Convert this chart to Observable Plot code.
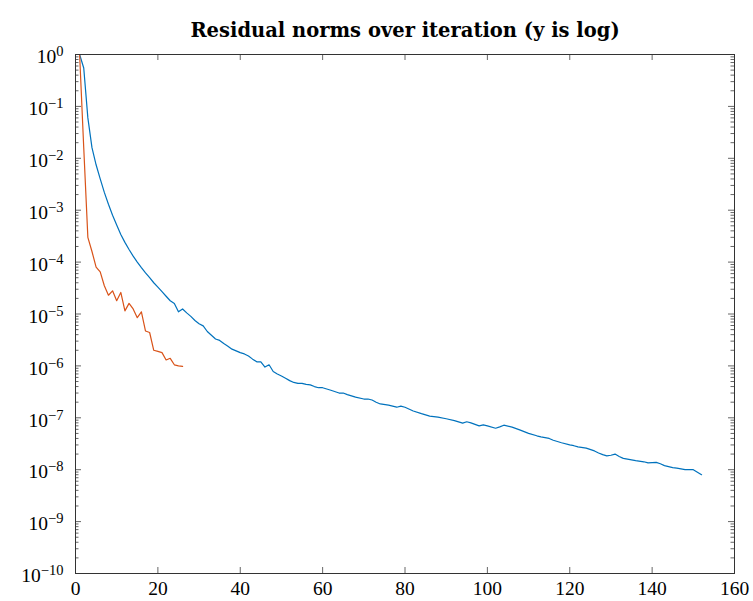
<!DOCTYPE html>
<html><head><meta charset="utf-8">
<script src="https://cdn.jsdelivr.net/npm/d3@7"></script>
<script src="https://cdn.jsdelivr.net/npm/@observablehq/plot@0.6"></script>
<style>body{margin:0;background:#fff} svg{display:block}</style>
</head><body><div id="chart"></div>
<script>
const title = "Residual norms over iteration (y is log)";
const xTicks = [0, 20, 40, 60, 80, 100, 120, 140, 160];
const yExponents = [-10, -9, -8, -7, -6, -5, -4, -3, -2, -1, 0];

const blueX = [1,2,3,4,5,6,7,8,9,10,11,12,13,14,15,16,17,18,19,20,21,22,23,24,25,26,27,28,29,30,
  31,32,33,34,35,36,37,38,39,40,41,42,43,44,45,46,47,48,49,50,51,52,53,54,55,56,57,58,59,60,
  62,64,65,66,68,70,71,72,73,74,76,78,79,80,82,84,86,88,90,92,94,95,96,98,99,100,102,103,104,106,
  108,110,112,113,115,116,118,120,121,122,124,126,127,128,129,130,131,132,133,135,136,138,139,141,
  142,143,145,146,148,150,152];
const blueY = [1,0.55,0.06,0.016,0.0075,0.004,0.0022,0.0013,8e-4,5.2e-4,3.4e-4,2.4e-4,1.75e-4,1.3e-4,1.0e-4,
  7.8e-5,6.2e-5,5.0e-5,4.0e-5,3.3e-5,2.7e-5,2.2e-5,1.8e-5,1.6e-5,1.1e-5,1.25e-5,1.05e-5,9e-6,7.5e-6,6.5e-6,
  5.9e-6,4.6e-6,3.9e-6,3.3e-6,3.1e-6,2.7e-6,2.4e-6,2.1e-6,1.95e-6,1.8e-6,1.7e-6,1.55e-6,1.35e-6,1.2e-6,1.2e-6,
  9.5e-7,1.05e-6,7.8e-7,7.0e-7,6.4e-7,5.8e-7,5.2e-7,4.8e-7,4.6e-7,4.6e-7,4.4e-7,4.3e-7,4.0e-7,3.8e-7,3.8e-7,
  3.4e-7,3.0e-7,3.0e-7,2.8e-7,2.5e-7,2.3e-7,2.3e-7,2.2e-7,2.0e-7,1.85e-7,1.75e-7,1.6e-7,1.68e-7,1.6e-7,
  1.35e-7,1.2e-7,1.08e-7,1.03e-7,9.6e-8,8.8e-8,7.9e-8,8.4e-8,8.0e-8,7.0e-8,7.3e-8,7.0e-8,6.3e-8,6.7e-8,7.2e-8,6.6e-8,
  5.8e-8,5.0e-8,4.5e-8,4.3e-8,4.0e-8,3.7e-8,3.3e-8,3.0e-8,2.9e-8,2.75e-8,2.6e-8,2.3e-8,2.1e-8,1.95e-8,1.85e-8,
  1.9e-8,2.0e-8,1.8e-8,1.65e-8,1.55e-8,1.5e-8,1.42e-8,1.35e-8,1.38e-8,
  1.3e-8,1.2e-8,1.1e-8,1.07e-8,1.0e-8,1.0e-8,8.0e-9];

const orangeX = [1,2,3,4,5,6,7,8,9,10,11,12,13,14,15,16,17,18,19,20,21,22,23,24,25,26];
const orangeY = [1,1.6e-2,3e-4,1.6e-4,8e-5,6.5e-5,3.5e-5,2.3e-5,2.8e-5,1.8e-5,2.6e-5,1.15e-5,1.6e-5,1.25e-5,
  8.5e-6,1.1e-5,4.7e-6,4.4e-6,2.0e-6,1.9e-6,1.8e-6,1.3e-6,1.4e-6,1.05e-6,1.0e-6,9.8e-7];

const W = 753, H = 601, mL = 75, mR = 19, mT = 54, mB = 28;
const pw = W - mL - mR, ph = H - mT - mB;
const yMajor = yExponents.map(e => Math.pow(10, e));
const yMinor = [];
for (const e of yExponents.slice(0, -1)) for (let k = 2; k <= 9; k++) yMinor.push(k * Math.pow(10, e));

const blue = blueX.map((x, i) => ({x, y: blueY[i]}));
const orange = orangeX.map((x, i) => ({x, y: orangeY[i]}));
const tickColor = "#666";
const serif = "'Liberation Serif', 'Times New Roman', serif";

const chart = Plot.plot({
  width: W, height: H,
  marginLeft: mL, marginRight: mR, marginTop: mT, marginBottom: mB,
  style: {fontFamily: serif, fontSize: "16px", background: "#fff", overflow: "visible", color: "#000"},
  x: {domain: [0, 160]},
  y: {type: "log", domain: [1e-10, 1]},
  marks: [
    Plot.tickX(xTicks, {x: d => d, insetTop: ph - 6, stroke: tickColor, strokeWidth: 1}),
    Plot.tickX(xTicks, {x: d => d, insetBottom: ph - 6, stroke: tickColor, strokeWidth: 1}),
    Plot.tickY(yMajor, {y: d => d, insetRight: pw - 6, stroke: tickColor, strokeWidth: 1}),
    Plot.tickY(yMajor, {y: d => d, insetLeft: pw - 6, stroke: tickColor, strokeWidth: 1}),
    Plot.tickY(yMinor, {y: d => d, insetRight: pw - 3.5, stroke: tickColor, strokeWidth: 1}),
    Plot.tickY(yMinor, {y: d => d, insetLeft: pw - 3.5, stroke: tickColor, strokeWidth: 1}),
    Plot.line(blue, {x: "x", y: "y", stroke: "#0072BD", strokeWidth: 1.2}),
    Plot.line(orange, {x: "x", y: "y", stroke: "#D95319", strokeWidth: 1.2}),
    Plot.frame({stroke: "#333"}),
    Plot.axisX(xTicks, {tickSize: 0, tickPadding: 8, fontSize: 19.5, fontFamily: serif, label: null}),
    Plot.axisY(yMajor, {tickSize: 0, tickPadding: 12, dy: 2.5, fontSize: 19.5, fontFamily: serif, label: null,
      tickFormat: d => String(Math.round(Math.log10(d)))}),
    Plot.text([title], {frameAnchor: "top", dy: -31, fontWeight: "bold", fontSize: 19.5,
      fontFamily: "'DejaVu Serif', serif", fill: "#000"})
  ]
});
document.getElementById("chart").appendChild(chart);

// render exponents as superscripts
chart.querySelectorAll('g[aria-label="y-axis tick label"] text').forEach(t => {
  const e = t.textContent.replace("-", "\u2212");
  t.textContent = "10";
  const ts = document.createElementNS("http://www.w3.org/2000/svg", "tspan");
  ts.setAttribute("dy", "-7");
  ts.setAttribute("font-size", "14.5");
  ts.textContent = e;
  t.appendChild(ts);
});
</script>
</body></html>
